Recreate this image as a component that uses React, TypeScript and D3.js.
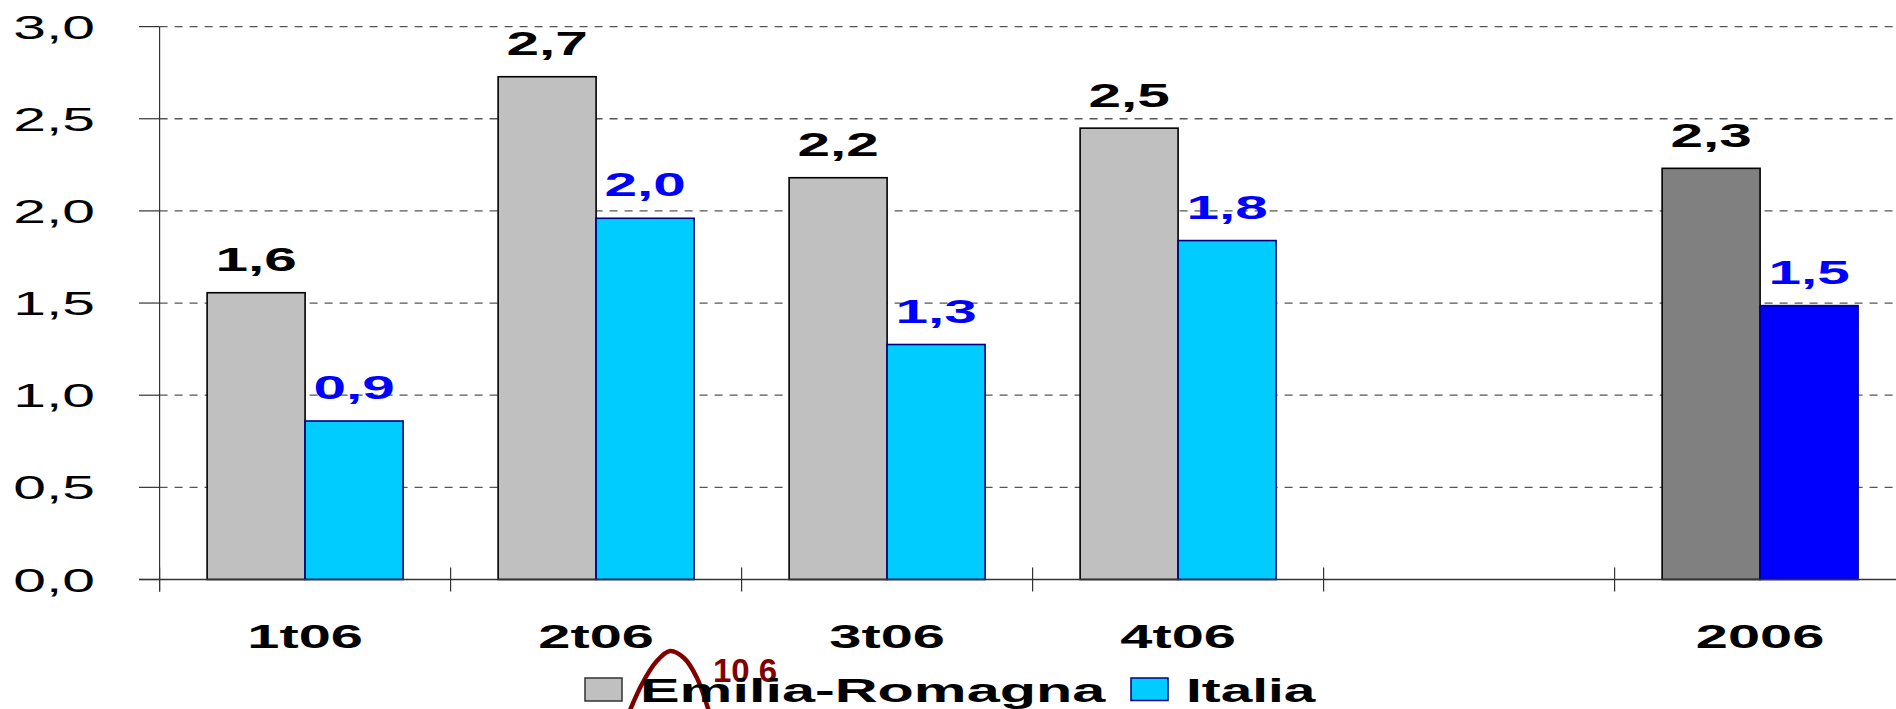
import React, { useEffect } from "react";
import * as d3 from "d3";

const categories = ["1t06", "2t06", "3t06", "4t06", "", "2006"];
const emiliaValues: (number | null)[] = [1.556, 2.728, 2.18, 2.449, null, 2.231];
const italiaValues: (number | null)[] = [0.86, 1.96, 1.275, 1.839, null, 1.486];
const emiliaLabels = ["1,6", "2,7", "2,2", "2,5", "", "2,3"];
const italiaLabels = ["0,9", "2,0", "1,3", "1,8", "", "1,5"];
const highlighted = [false, false, false, false, false, true];
const seriesNames = ["Emilia-Romagna", "Italia"];
const yTicks = [0, 0.5, 1, 1.5, 2, 2.5, 3];
const yTickLabels = ["0,0", "0,5", "1,0", "1,5", "2,0", "2,5", "3,0"];
const strayNote = "10 6";

const W = 1896;
const H = 709;
const FONT = "'Liberation Sans', Arial, sans-serif";
const SX = 1.8;

export default function App() {
  useEffect(() => {
    document.body.style.margin = "0";
  }, []);

  const axisX = 159.6;
  const step = 291;
  const keys = categories.map((_, i) => String(i));
  const x = d3.scaleBand<string>().domain(keys).range([axisX, axisX + step * categories.length]).padding(0);
  const x1 = d3.scaleBand<string>().domain(seriesNames).range([0, x.bandwidth()]).paddingInner(0).paddingOuter(0.485);
  const y = d3.scaleLinear().domain([0, 3]).range([579.5, 26.6]);
  const y0 = y(0);

  const tickXs = d3.range(categories.length + 1).map((i) => axisX + i * step);

  const strayPts: [number, number][] = [
    [628, 715], [642, 684], [656, 662], [670, 651], [684, 658], [697, 678], [710, 715],
  ];
  const strayLine = d3.line().curve(d3.curveCatmullRom.alpha(0.5));

  const sText = (key: string, tx: number, ty: number, txt: string, opts: any) => (
    <text
      key={key}
      transform={`translate(${tx},${ty}) scale(${opts.sx ?? SX},1)`}
      textAnchor={opts.anchor ?? "middle"}
      fontFamily={FONT}
      fontWeight={opts.weight ?? "bold"}
      fontSize={opts.size}
      fill={opts.fill ?? "#000"}
    >
      {txt}
    </text>
  );

  return (
    <svg width={W} height={H} style={{ position: "absolute", left: 0, top: 0, background: "#fff" }}>
      <rect x={0} y={0} width={W} height={H} fill="#fff" />
      {/* gridlines */}
      {yTicks.slice(1).map((t) => (
        <line key={"g" + t} x1={axisX} x2={W} y1={y(t)} y2={y(t)} stroke="#555" strokeWidth={1.3} strokeDasharray="8,7" />
      ))}
      {/* y ticks */}
      {yTicks.map((t) => (
        <line key={"yt" + t} x1={139} x2={axisX} y1={y(t)} y2={y(t)} stroke="#333" strokeWidth={1.2} />
      ))}
      {/* y labels */}
      {yTicks.map((t, i) => sText("yl" + t, 95, y(t) + 12, yTickLabels[i], { anchor: "end", weight: "normal", size: 33, sx: 1.78 }))}

      {/* bars */}
      {categories.map((c, i) => {
        const bx = x(String(i))!;
        const ev = emiliaValues[i];
        const iv = italiaValues[i];
        const els: any[] = [];
        if (ev != null) {
          els.push(
            <rect key={"e" + i} x={bx + x1(seriesNames[0])!} y={y(ev)} width={x1.bandwidth()} height={y0 - y(ev)}
              fill={highlighted[i] ? "#808080" : "#C0C0C0"} stroke="#000" strokeWidth={1.6} />
          );
        }
        if (iv != null) {
          els.push(
            <rect key={"i" + i} x={bx + x1(seriesNames[1])!} y={y(iv)} width={x1.bandwidth()} height={y0 - y(iv)}
              fill={highlighted[i] ? "#0000FF" : "#00CCFF"} stroke="#000080" strokeWidth={1.6} />
          );
        }
        return <g key={"bars" + i}>{els}</g>;
      })}

      {/* axes */}
      <line x1={139} x2={W} y1={y0} y2={y0} stroke="#333" strokeWidth={1.3} />
      <line x1={axisX} x2={axisX} y1={y(3)} y2={591.5} stroke="#333" strokeWidth={1.2} />
      {tickXs.map((tx, i) => (
        <line key={"xt" + i} x1={tx} x2={tx} y1={567.5} y2={591.5} stroke="#333" strokeWidth={1.2} />
      ))}

      {/* value labels */}
      {categories.map((c, i) => {
        const bx = x(String(i))!;
        const ev = emiliaValues[i];
        const iv = italiaValues[i];
        return (
          <g key={"vl" + i}>
            {ev != null && sText("el" + i, bx + x1(seriesNames[0])! + x1.bandwidth() / 2, y(ev) - 21.5, emiliaLabels[i], { size: 32.5 })}
            {iv != null && sText("il" + i, bx + x1(seriesNames[1])! + x1.bandwidth() / 2, y(iv) - 22, italiaLabels[i], { size: 32.5, fill: "#0000FF" })}
          </g>
        );
      })}

      {/* category labels */}
      {categories.map((c, i) => sText("cl" + i, x(String(i))! + x.bandwidth() / 2, 648, c, { size: 34, sx: 1.7 }))}

      {/* stray overlay from source */}
      <path d={strayLine(strayPts) || ""} fill="none" stroke="#800000" strokeWidth={4.5} />
      <text x={713} y={682} fontFamily={FONT} fontWeight="bold" fontSize={33} fill="#800000">{strayNote}</text>

      {/* legend */}
      <rect x={585} y={678} width={37} height={23} fill="#C0C0C0" stroke="#333" strokeWidth={1.5} />
      {sText("lg0", 640, 701.5, seriesNames[0], { anchor: "start", size: 33, sx: 1.8 })}
      <rect x={1131} y={678} width={37} height={22.5} fill="#00CCFF" stroke="#000080" strokeWidth={1.5} />
      {sText("lg1", 1186, 701.5, seriesNames[1], { anchor: "start", size: 33, sx: 1.72 })}
    </svg>
  );
}
